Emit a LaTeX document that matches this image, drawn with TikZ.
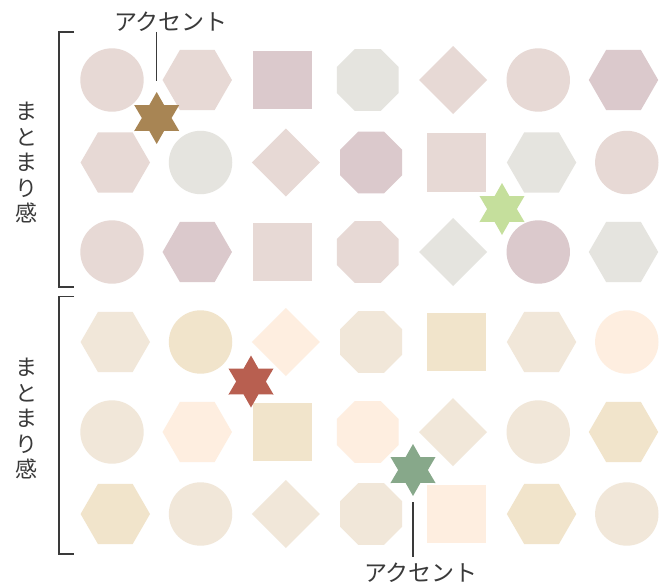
\documentclass[tikz,border=0pt]{standalone}
\usepackage{fontspec}
\newfontfamily\jp{Noto Sans CJK JP}
\usetikzlibrary{shapes.geometric}
\definecolor{pk}{HTML}{E7D9D5}
\definecolor{mv}{HTML}{DBC9CC}
\definecolor{gr}{HTML}{E5E4DF}
\definecolor{be}{HTML}{F1E7D9}
\definecolor{tn}{HTML}{F1E4CB}
\definecolor{pc}{HTML}{FEEEE0}
\definecolor{stA}{HTML}{A88554}
\definecolor{stB}{HTML}{C5DF9C}
\definecolor{stC}{HTML}{B85F50}
\definecolor{stD}{HTML}{87A88A}
\definecolor{ink}{HTML}{3A3A3A}
\tikzset{
  circ/.pic={\path[pic actions] (0,0) circle (31.7);},
  hexa/.pic={\path[pic actions] (0:34.7) -- (60:34.7) -- (120:34.7) -- (180:34.7) -- (240:34.7) -- (300:34.7) -- cycle;},
  sqr/.pic={\path[pic actions] (-29.2,-29.2) rectangle (29.2,29.2);},
  octa/.pic={\path[pic actions] (22.5:33.5) -- (67.5:33.5) -- (112.5:33.5) -- (157.5:33.5) -- (202.5:33.5) -- (247.5:33.5) -- (292.5:33.5) -- (337.5:33.5) -- cycle;},
  dia/.pic={\path[pic actions] (34,0) -- (0,34) -- (-34,0) -- (0,-34) -- cycle;},
  starshape/.style={star, star points=6, star point ratio=1.75, minimum size=52pt, inner sep=0pt, draw=none},
  lbl/.style={font=\jp\fontsize{23}{25.5}\selectfont, text=ink, inner sep=0pt},
  vlbl/.style={font=\jp\fontsize{22}{25.5}\selectfont, text=ink, inner sep=0pt, align=center},
  brk/.style={draw=ink, line width=1.5pt},
  lead/.style={draw=ink, line width=1.2pt},
}
\begin{document}
\begin{tikzpicture}[x=1pt,y=-1pt]
\fill[white] (0,0) rectangle (666,584);
\useasboundingbox (0,0) rectangle (666,584);
% rows: y, x-offset, shapes
\foreach \s/\c [count=\i from 0] in {circ/pk,hexa/pk,sqr/mv,octa/gr,dia/pk,circ/pk,hexa/mv}
  \pic[fill=\c] at (112+85.25*\i,80) {\s};
\foreach \s/\c [count=\i from 0] in {hexa/pk,circ/gr,dia/pk,octa/mv,sqr/pk,hexa/gr,circ/pk}
  \pic[fill=\c] at (115.3+85.25*\i,162.5) {\s};
\foreach \s/\c [count=\i from 0] in {circ/pk,hexa/mv,sqr/pk,octa/pk,dia/gr,circ/mv,hexa/gr}
  \pic[fill=\c] at (112+85.25*\i,252) {\s};
\foreach \s/\c [count=\i from 0] in {hexa/be,circ/tn,dia/pc,octa/be,sqr/tn,hexa/be,circ/pc}
  \pic[fill=\c] at (115.3+85.25*\i,342) {\s};
\foreach \s/\c [count=\i from 0] in {circ/be,hexa/pc,sqr/tn,octa/pc,dia/be,circ/be,hexa/tn}
  \pic[fill=\c] at (112+85.25*\i,432) {\s};
\foreach \s/\c [count=\i from 0] in {hexa/tn,circ/be,dia/be,octa/be,sqr/pc,hexa/tn,circ/be}
  \pic[fill=\c] at (115.3+85.25*\i,514) {\s};
% stars
\node[starshape, fill=stA] (s1) at (156.7,118) {};
\node[starshape, fill=stB] (s2) at (502,209) {};
\node[starshape, fill=stC] (s3) at (251,381.5) {};
\node[starshape, fill=stD] (s4) at (413,470) {};
% labels
\node[lbl] (acc1) at (171,22) {アクセント};
\node[lbl] (acc2) at (421,573) {アクセント};
\node[vlbl] (mt1) at (27,163) {ま\\と\\ま\\り\\感};
\node[vlbl] (mt2) at (27,419) {ま\\と\\ま\\り\\感};
% leaders
\draw[lead] (s1.north |- acc1.south) -- ([yshift=11pt]s1.north);
\draw[lead] ([yshift=-6pt]s4.south) -- ([yshift=6pt]s4.south |- acc2.north);
% brackets
\coordinate (b1t) at (74,32); \coordinate (b1b) at (74,287);
\coordinate (b2t) at (74,296.7); \coordinate (b2b) at (74,554);
\draw[brk] (b1t) -- ++(-15,0) |- (b1b);
\draw[brk] (b2t) -- ++(-15,0) |- (b2b);
\end{tikzpicture}
\end{document}
